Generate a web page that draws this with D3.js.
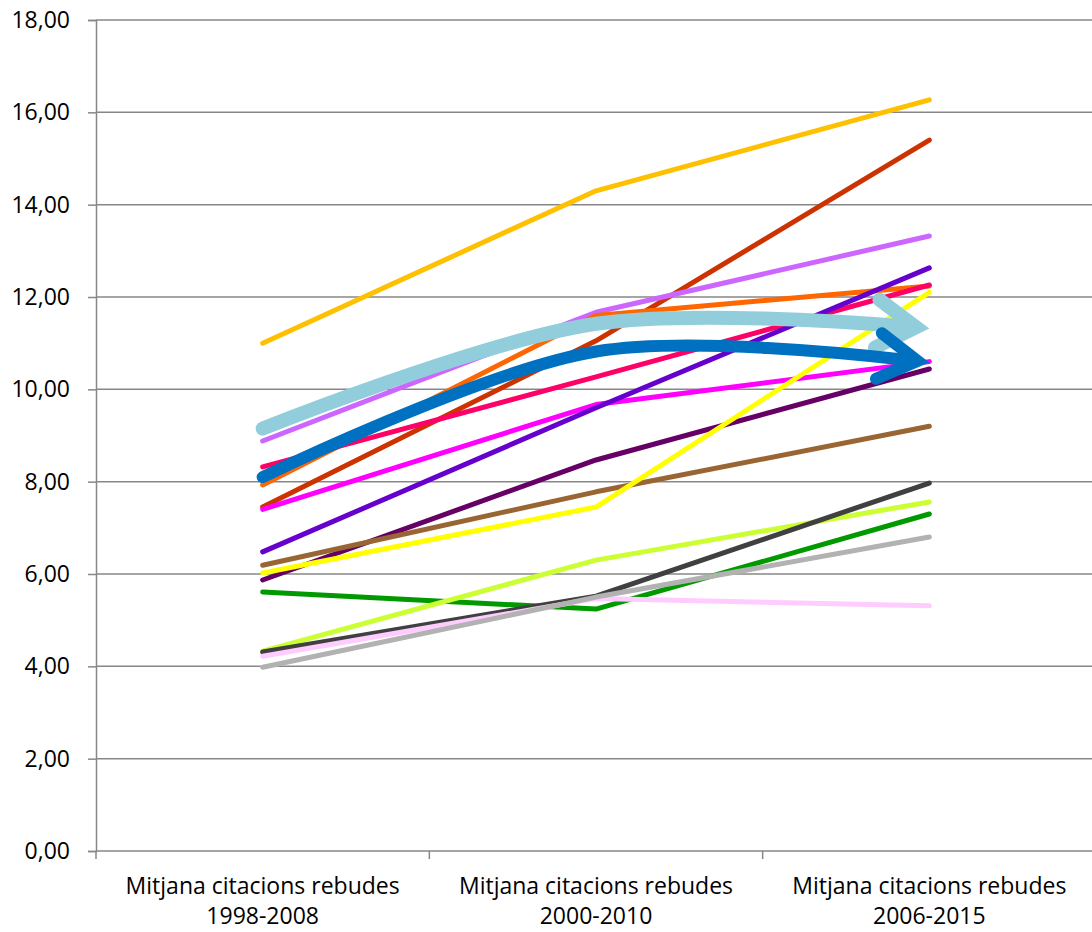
<!DOCTYPE html>
<html>
<head>
<meta charset="utf-8">
<script src="https://cdn.jsdelivr.net/npm/d3@7/dist/d3.min.js"></script>
<style>
  html, body { margin: 0; padding: 0; background: #fff; }
  svg { display: block; }
  text { font-family: "Open Sans", "DejaVu Sans", sans-serif; fill: #000; }
</style>
</head>
<body>
<svg id="chart" width="1092" height="932"></svg>
<script>
// ---- data ----
const categories = [
  ["Mitjana citacions rebudes", "1998-2008"],
  ["Mitjana citacions rebudes", "2000-2010"],
  ["Mitjana citacions rebudes", "2006-2015"]
];
const yTicks = [0, 2, 4, 6, 8, 10, 12, 14, 16, 18];

const seriesGold       = [11.00, 14.30, 16.27];
const seriesRed        = [7.45, 11.05, 15.40];
const seriesLilac      = [8.88, 11.67, 13.32];
const seriesOrange     = [7.93, 11.60, 12.24];
const seriesCrimson    = [8.32, 10.27, 12.26];
const seriesMagenta    = [7.40, 9.67, 10.60];
const seriesPurple     = [6.48, 9.60, 12.63];
const seriesPlum       = [5.87, 8.47, 10.44];
const seriesBrown      = [6.19, 7.78, 9.20];
const seriesYellow     = [6.02, 7.45, 12.10];
const seriesGreen      = [5.61, 5.24, 7.30];
const seriesLime       = [4.33, 6.30, 7.56];
const seriesDarkGray   = [4.31, 5.52, 7.97];
const seriesPalePink   = [4.22, 5.47, 5.31];
const seriesGray       = [3.98, 5.50, 6.80];
const trendLightBlue   = [9.15, 11.42, 11.32];
const trendBlue        = [8.10, 10.82, 10.58];

const thinSeries = [
  seriesGold, seriesRed, seriesLilac, seriesOrange, seriesCrimson, seriesMagenta,
  seriesPurple, seriesPlum, seriesBrown, seriesYellow, seriesGreen, seriesLime,
  seriesDarkGray, seriesPalePink, seriesGray
];
const thinColors = [
  "#FFC000", "#CC3300", "#CC66FF", "#FF6600", "#FF0066", "#FF00FF",
  "#6600CC", "#660066", "#996633", "#FFFF00", "#009900", "#CCFF33",
  "#404040", "#FFCCFF", "#B2B2B2"
];
const trendSeries = [trendLightBlue, trendBlue];
const trendColors = ["#92CDDC", "#0070C0"];
const trendWidths = [14, 12];

// ---- layout ----
const svg = d3.select("#chart");
const mLeft = 96, mRight = 1096, mTop = 20, mBottom = 851;

const x = d3.scaleBand().domain(d3.range(categories.length)).range([mLeft, mRight]);
const y = d3.scaleLinear().domain([0, 18]).range([mBottom, mTop]);
const xc = i => x(i) + x.bandwidth() / 2;

const gridColor = "#878787";

// gridlines
svg.append("g").selectAll("line").data(yTicks.filter(d => d > 0)).join("line")
  .attr("x1", mLeft).attr("x2", 1092)
  .attr("y1", d => y(d)).attr("y2", d => y(d))
  .attr("stroke", gridColor).attr("stroke-width", 1.5);

// y axis
const yAxis = svg.append("g").attr("transform", `translate(${mLeft},0)`)
  .call(d3.axisLeft(y).tickValues(yTicks).tickSize(8).tickPadding(18)
    .tickFormat(d => d3.format(".2f")(d).replace(".", ",")));
yAxis.select(".domain").attr("stroke", gridColor).attr("stroke-width", 1.5);
yAxis.selectAll(".tick line").attr("stroke", gridColor).attr("stroke-width", 1.5);
yAxis.selectAll(".tick text").style("font-size", "23px")
  .style("font-family", '"Open Sans", sans-serif').attr("fill", "#000");

// x axis
const xAxisG = svg.append("g");
xAxisG.append("line").attr("x1", mLeft).attr("x2", 1092).attr("y1", mBottom).attr("y2", mBottom)
  .attr("stroke", gridColor).attr("stroke-width", 1.5);
const bounds = d3.range(categories.length + 1).map(i => mLeft + i * x.step());
xAxisG.selectAll("line.tk").data(bounds.filter(b => b < 1092)).join("line").attr("class", "tk")
  .attr("x1", d => d).attr("x2", d => d).attr("y1", mBottom).attr("y2", mBottom + 8)
  .attr("stroke", gridColor).attr("stroke-width", 1.5);
const lbl = xAxisG.selectAll("text").data(categories).join("text")
  .attr("text-anchor", "middle")
  .style("font-size", "23px");
lbl.each(function(d, i) {
  const t = d3.select(this);
  d.forEach((line, k) => {
    t.append("tspan").attr("x", xc(i)).attr("y", 894 + k * 30).text(line);
  });
});

// thin lines
const lineGen = d3.line().x((d, i) => xc(i)).y(d => y(d));
svg.append("g").selectAll("path").data(thinSeries).join("path")
  .attr("d", lineGen)
  .attr("fill", "none")
  .attr("stroke", (d, i) => thinColors[i])
  .attr("stroke-width", 5)
  .attr("stroke-linecap", "round")
  .attr("stroke-linejoin", "round");

// smoothed trend arrows
const armBack = 39, armSpread = [24, 23];
const defs = svg.append("defs");
const tipInset = trendWidths.map((w, i) => (w / 2) / Math.sin(Math.atan2(armSpread[i], armBack)));
trendColors.forEach((c, i) => {
  const w = trendWidths[i];
  const s = tipInset[i];
  const h = armSpread[i];
  defs.append("marker")
    .attr("id", "arrow" + i)
    .attr("markerUnits", "userSpaceOnUse")
    .attr("markerWidth", 200).attr("markerHeight", 200)
    .attr("viewBox", "-100 -100 200 200")
    .attr("refX", 0).attr("refY", 0)
    .attr("orient", "auto")
    .style("overflow", "visible")
    .append("path")
    .attr("d", `M${-armBack - s},${-h}L${-s},0L${-armBack - s},${h}`)
    .attr("fill", "none")
    .attr("stroke", c)
    .attr("stroke-width", w)
    .attr("stroke-linecap", "round")
    .attr("stroke-linejoin", "miter")
    .attr("stroke-miterlimit", 10);
});
const smooth = d3.line().x((d, i) => xc(i)).y(d => y(d)).curve(d3.curveCatmullRom.alpha(0.5));
svg.append("g").selectAll("path").data(trendSeries).join("path")
  .attr("d", smooth)
  .attr("fill", "none")
  .attr("stroke", (d, i) => trendColors[i])
  .attr("stroke-width", (d, i) => trendWidths[i])
  .attr("stroke-linecap", "round")
  .attr("marker-end", (d, i) => `url(#arrow${i})`)
  .each(function(d, i) {
    const L = this.getTotalLength();
    d3.select(this).attr("stroke-dasharray", `${L - tipInset[i] - trendWidths[i] / 2} ${L + 100}`);
  });
</script>
</body>
</html>
